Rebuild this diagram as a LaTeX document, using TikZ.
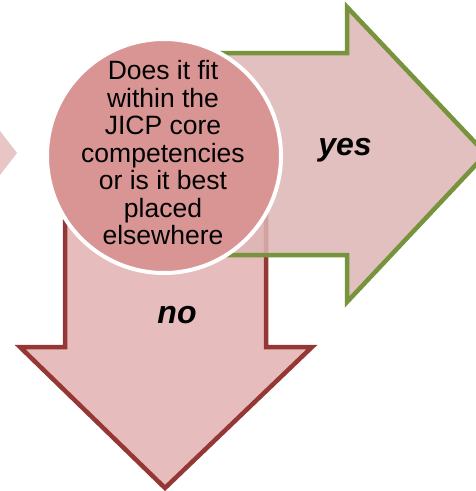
\documentclass[tikz,border=0pt]{standalone}
\usepackage{fontspec}
\setmainfont{Liberation Sans}
\definecolor{greenline}{HTML}{77933C}
\definecolor{redline}{HTML}{953735}
\definecolor{yesfill}{HTML}{DCB5B4}
\definecolor{nofill}{HTML}{E6BDBC}
\definecolor{circfill}{HTML}{D99594}
\definecolor{leftfill}{HTML}{E8C6C5}
\tikzset{
  bigarrow/.style={line width=4.5pt, line join=miter, miter limit=10},
  lbl/.style={font=\fontsize{32}{34}\selectfont\bfseries\itshape, inner sep=0pt},
  qtext/.style={font=\fontsize{26.5}{27.5}\selectfont, align=center, inner sep=0pt}
}
\begin{document}
\begin{tikzpicture}[x=1pt,y=-1pt]
\useasboundingbox (0,0) rectangle (475,491);
% left partial arrow tip
\fill[leftfill] (0,131) -- (17,153) -- (0,175) -- cycle;
% down arrow (no)
\draw[bigarrow, draw=redline, fill=nofill]
  (65,150) -- (266,150) -- (266,347) -- (312,347) -- (165,488) -- (20,347) -- (65,347) -- cycle;
% right arrow (yes)
\draw[bigarrow, draw=greenline, fill=yesfill, fill opacity=0.85]
  (150,53) -- (347,53) -- (347,7) -- (486,154) -- (347,302) -- (347,255) -- (150,255) -- cycle;
% central circle
\node[circle, fill=circfill, draw=white, line width=4pt, minimum size=234pt, inner sep=0pt] (q) at (164,156) {};
\node[qtext] (qt) at (163,153) {Does it fit\\within the\\JICP core\\competencies\\or is it best\\placed\\elsewhere};
\node[lbl] (yes) at (345,150) {yes};
\node[lbl] (no) at (177,315) {no};
\end{tikzpicture}
\end{document}
